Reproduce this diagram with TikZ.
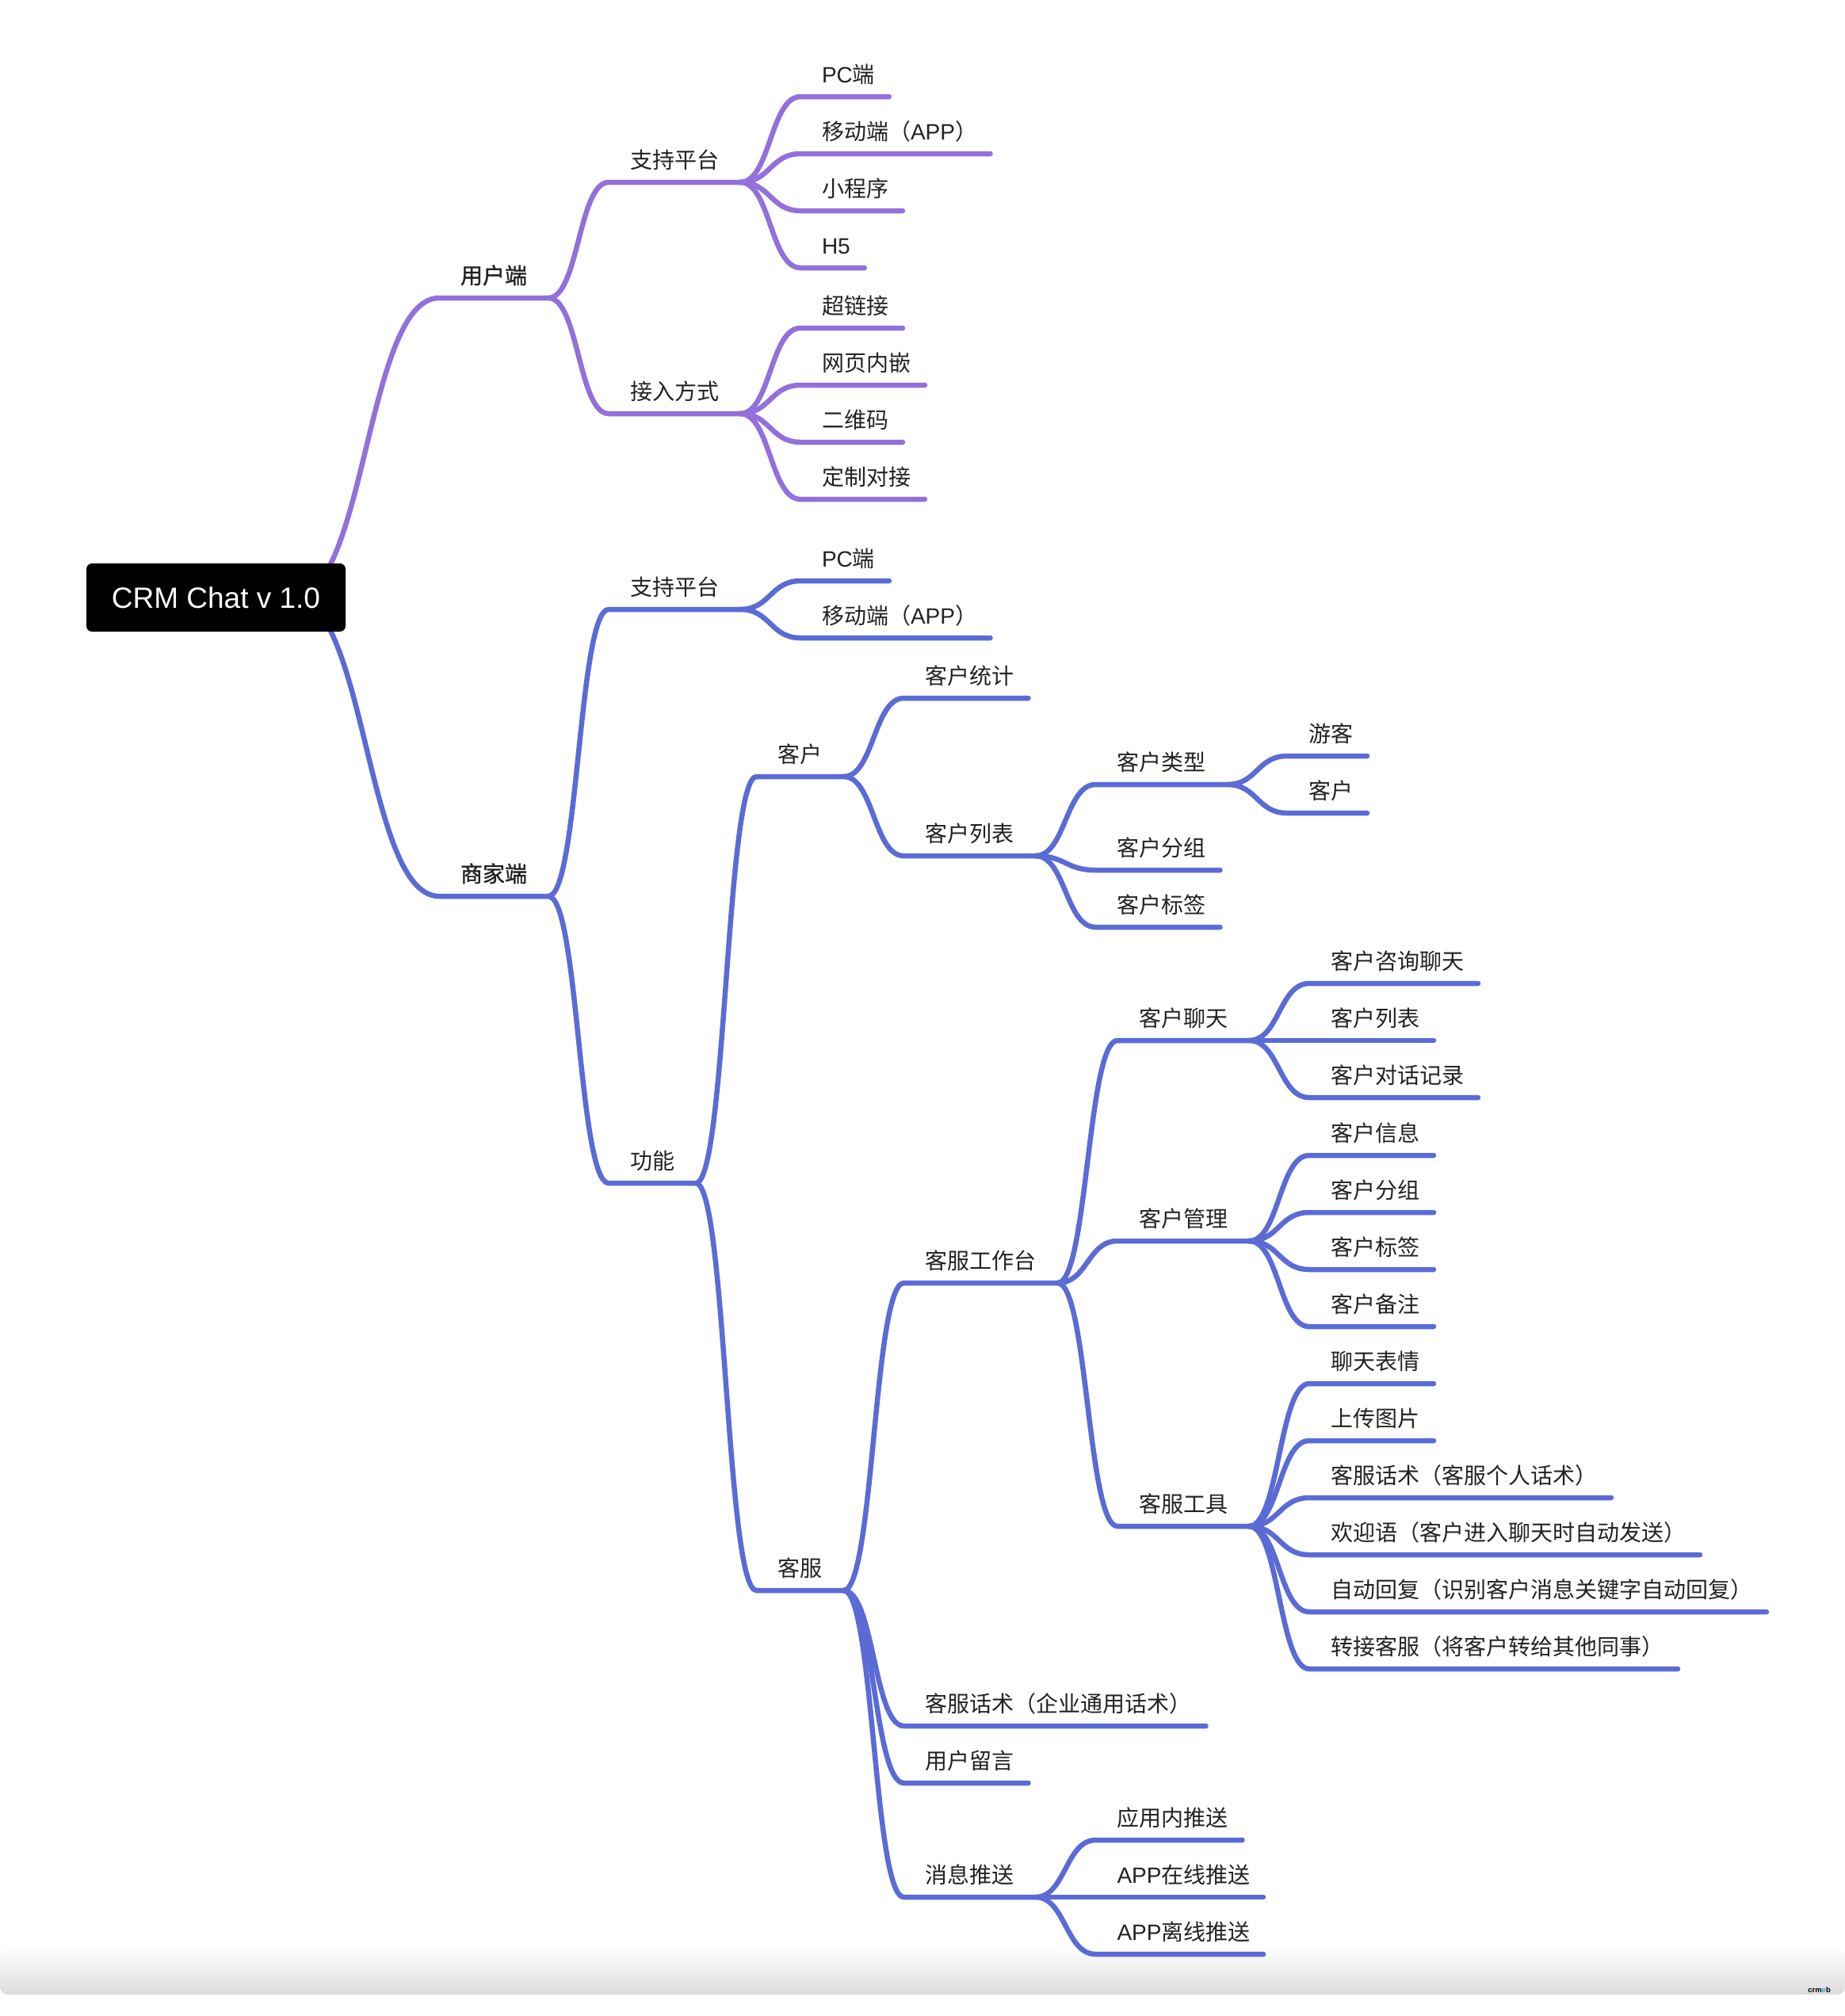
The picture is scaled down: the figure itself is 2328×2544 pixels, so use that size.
\documentclass[tikz,border=0pt]{standalone}
\usepackage{fontspec}
\setmainfont{Noto Sans CJK SC}
\newfontfamily\latinfont{Liberation Sans}
\newfontfamily\mainbranchfont[FakeBold=1.2]{Noto Sans CJK SC}
\usetikzlibrary{calc,backgrounds}
\definecolor{purplelink}{RGB}{147,112,219}
\definecolor{bluelink}{RGB}{91,107,214}
\definecolor{inktext}{RGB}{34,34,34}
\definecolor{barend}{RGB}{220,220,220}
\definecolor{logoblue}{RGB}{40,160,230}
\tikzset{
  parenttopic/.style={anchor=south west, inner xsep=27pt, inner ysep=0pt, outer sep=0pt,
    text height=24pt, text depth=18pt, text=inktext,
    font=\fontsize{28}{34}\selectfont},
  topic/.style={parenttopic, inner xsep=18pt, execute at begin node={\kern9pt}},
  apptopic/.style={topic, inner xsep=16.5pt, execute at begin node={\kern1.5pt}},
  maintopic/.style={parenttopic, font=\fontsize{28}{34}\selectfont\mainbranchfont},
  rootbox/.style={fill=black, text=white, rounded corners=7pt, minimum width=327pt,
    minimum height=86pt, inner sep=0pt, font=\fontsize{37}{40}\selectfont\latinfont},
  fork/.style={to path={let \p1=(\tikztostart), \p2=(\tikztotarget) in
    .. controls ({0.5*(\x1+\x2)},\y1) and ({0.5*(\x1+\x2)},\y2) .. (\tikztotarget)}},
  ulink/.style={draw=purplelink, line width=6.5pt, line cap=round, line join=round},
  mlink/.style={draw=bluelink, line width=6.5pt, line cap=round, line join=round},
}
\begin{document}
\begin{tikzpicture}[x=1pt,y=-1pt]
\useasboundingbox (0,0) rectangle (2328,2544);

\node[rootbox] (root) at (272.5,754) {CRM Chat v 1.0};
\coordinate (rootfork) at (370,754);

% user side
\node[maintopic] (user) at (554,376) {用户端};
\node[parenttopic] (uplat) at (768,230) {支持平台};
\node[topic] (upc) at (1010,122) {{\latinfont PC}端};
\node[apptopic] (uapp) at (1010,194) {移动端（{\latinfont APP}）};
\node[topic] (umini) at (1010,266) {小程序};
\node[topic] (uhfive) at (1010,338) {{\latinfont H5}};
\node[parenttopic] (uaccess) at (768,522) {接入方式};
\node[topic] (ulink) at (1010,414) {超链接};
\node[topic] (uembed) at (1010,486) {网页内嵌};
\node[topic] (uqr) at (1010,558) {二维码};
\node[topic] (ucustom) at (1010,630) {定制对接};

% merchant side
\node[maintopic] (shop) at (554,1131) {商家端};
\node[parenttopic] (mplat) at (768,769) {支持平台};
\node[topic] (mpc) at (1010,733) {{\latinfont PC}端};
\node[apptopic] (mapp) at (1010,805) {移动端（{\latinfont APP}）};
\node[parenttopic] (func) at (768,1493) {功能};

\node[parenttopic] (cust) at (954.5,980) {客户};
\node[topic] (cstat) at (1140.5,881) {客户统计};
\node[parenttopic] (clist) at (1140.5,1080) {客户列表};
\node[parenttopic] (ctype) at (1382.5,990) {客户类型};
\node[topic] (cguest) at (1624,954) {游客};
\node[topic] (cmember) at (1624,1026) {客户};
\node[topic] (cgroup) at (1382.5,1098) {客户分组};
\node[topic] (ctag) at (1382.5,1170) {客户标签};

\node[parenttopic] (serv) at (954.5,2007) {客服};
\node[parenttopic] (desk) at (1140.5,1619) {客服工作台};
\node[parenttopic] (chat) at (1410,1313) {客户聊天};
\node[topic] (chask) at (1652,1241) {客户咨询聊天};
\node[topic] (chlist) at (1652,1313) {客户列表};
\node[topic] (chlog) at (1652,1385) {客户对话记录};
\node[parenttopic] (mgr) at (1410,1566) {客户管理};
\node[topic] (mginfo) at (1652,1458) {客户信息};
\node[topic] (mggroup) at (1652,1530) {客户分组};
\node[topic] (mgtag) at (1652,1602) {客户标签};
\node[topic] (mgnote) at (1652,1674) {客户备注};
\node[parenttopic] (tool) at (1410,1926) {客服工具};
\node[topic] (temoji) at (1652,1746) {聊天表情};
\node[topic] (timage) at (1652,1818) {上传图片};
\node[topic] (tscript) at (1652,1890) {客服话术（客服个人话术）};
\node[topic] (twelcome) at (1652,1962) {欢迎语（客户进入聊天时自动发送）};
\node[topic] (tauto) at (1652,2034) {自动回复（识别客户消息关键字自动回复）};
\node[topic] (tswitch) at (1652,2106) {转接客服（将客户转给其他同事）};
\node[topic] (sscript) at (1140.5,2178) {客服话术（企业通用话术）};
\node[topic] (sleave) at (1140.5,2250) {用户留言};
\node[parenttopic] (push) at (1140.5,2394) {消息推送};
\node[topic] (pinapp) at (1382.5,2322) {应用内推送};
\node[apptopic] (ponline) at (1382.5,2394) {{\latinfont APP}在线推送};
\node[apptopic] (poffline) at (1382.5,2466) {{\latinfont APP}离线推送};

\node[anchor=base east, inner sep=0pt, font=\fontsize{9.5}{12}\selectfont\latinfont\bfseries] (logo) at (2310,2514) {crm{\color{logoblue}e}b};

\begin{scope}[on background layer]
\shade[top color=white, bottom color=barend, rounded corners=10pt] (0,2457) rectangle (2328,2517);

\draw[ulink] (rootfork) to[fork] (user.south west) -- (user.south east);
\draw[ulink] (user.south east) to[fork] (uplat.south west) -- (uplat.south east);
\draw[ulink] (uplat.south east) to[fork] (upc.south west) -- (upc.south east);
\draw[ulink] (uplat.south east) to[fork] (uapp.south west) -- (uapp.south east);
\draw[ulink] (uplat.south east) to[fork] (umini.south west) -- (umini.south east);
\draw[ulink] (uplat.south east) to[fork] (uhfive.south west) -- (uhfive.south east);
\draw[ulink] (user.south east) to[fork] (uaccess.south west) -- (uaccess.south east);
\draw[ulink] (uaccess.south east) to[fork] (ulink.south west) -- (ulink.south east);
\draw[ulink] (uaccess.south east) to[fork] (uembed.south west) -- (uembed.south east);
\draw[ulink] (uaccess.south east) to[fork] (uqr.south west) -- (uqr.south east);
\draw[ulink] (uaccess.south east) to[fork] (ucustom.south west) -- (ucustom.south east);

\draw[mlink] (rootfork) to[fork] (shop.south west) -- (shop.south east);
\draw[mlink] (shop.south east) to[fork] (mplat.south west) -- (mplat.south east);
\draw[mlink] (mplat.south east) to[fork] (mpc.south west) -- (mpc.south east);
\draw[mlink] (mplat.south east) to[fork] (mapp.south west) -- (mapp.south east);
\draw[mlink] (shop.south east) to[fork] (func.south west) -- (func.south east);
\draw[mlink] (func.south east) to[fork] (cust.south west) -- (cust.south east);
\draw[mlink] (cust.south east) to[fork] (cstat.south west) -- (cstat.south east);
\draw[mlink] (cust.south east) to[fork] (clist.south west) -- (clist.south east);
\draw[mlink] (clist.south east) to[fork] (ctype.south west) -- (ctype.south east);
\draw[mlink] (ctype.south east) to[fork] (cguest.south west) -- (cguest.south east);
\draw[mlink] (ctype.south east) to[fork] (cmember.south west) -- (cmember.south east);
\draw[mlink] (clist.south east) to[fork] (cgroup.south west) -- (cgroup.south east);
\draw[mlink] (clist.south east) to[fork] (ctag.south west) -- (ctag.south east);
\draw[mlink] (func.south east) to[fork] (serv.south west) -- (serv.south east);
\draw[mlink] (serv.south east) to[fork] (desk.south west) -- (desk.south east);
\draw[mlink] (desk.south east) to[fork] (chat.south west) -- (chat.south east);
\draw[mlink] (chat.south east) to[fork] (chask.south west) -- (chask.south east);
\draw[mlink] (chat.south east) to[fork] (chlist.south west) -- (chlist.south east);
\draw[mlink] (chat.south east) to[fork] (chlog.south west) -- (chlog.south east);
\draw[mlink] (desk.south east) to[fork] (mgr.south west) -- (mgr.south east);
\draw[mlink] (mgr.south east) to[fork] (mginfo.south west) -- (mginfo.south east);
\draw[mlink] (mgr.south east) to[fork] (mggroup.south west) -- (mggroup.south east);
\draw[mlink] (mgr.south east) to[fork] (mgtag.south west) -- (mgtag.south east);
\draw[mlink] (mgr.south east) to[fork] (mgnote.south west) -- (mgnote.south east);
\draw[mlink] (desk.south east) to[fork] (tool.south west) -- (tool.south east);
\draw[mlink] (tool.south east) to[fork] (temoji.south west) -- (temoji.south east);
\draw[mlink] (tool.south east) to[fork] (timage.south west) -- (timage.south east);
\draw[mlink] (tool.south east) to[fork] (tscript.south west) -- (tscript.south east);
\draw[mlink] (tool.south east) to[fork] (twelcome.south west) -- (twelcome.south east);
\draw[mlink] (tool.south east) to[fork] (tauto.south west) -- (tauto.south east);
\draw[mlink] (tool.south east) to[fork] (tswitch.south west) -- (tswitch.south east);
\draw[mlink] (serv.south east) to[fork] (sscript.south west) -- (sscript.south east);
\draw[mlink] (serv.south east) to[fork] (sleave.south west) -- (sleave.south east);
\draw[mlink] (serv.south east) to[fork] (push.south west) -- (push.south east);
\draw[mlink] (push.south east) to[fork] (pinapp.south west) -- (pinapp.south east);
\draw[mlink] (push.south east) to[fork] (ponline.south west) -- (ponline.south east);
\draw[mlink] (push.south east) to[fork] (poffline.south west) -- (poffline.south east);
\end{scope}
\end{tikzpicture}
\end{document}
